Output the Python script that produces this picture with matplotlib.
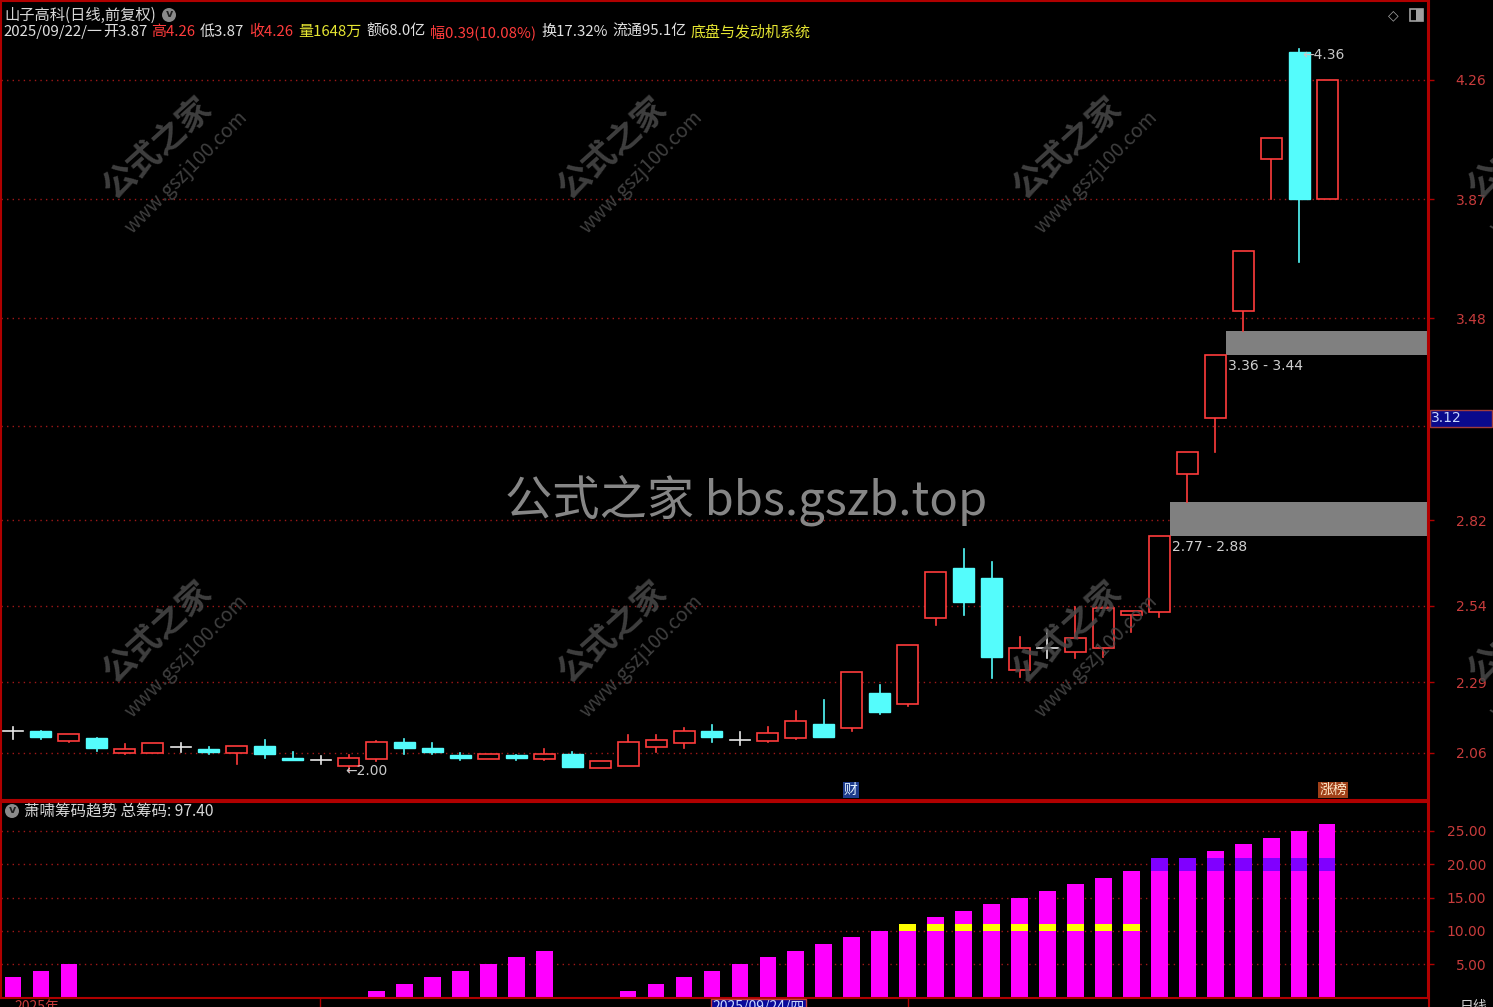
import matplotlib
matplotlib.use('Agg')
import matplotlib.pyplot as plt
from matplotlib.patches import Rectangle, Ellipse

plt.rcParams['font.family'] = ['Noto Sans CJK SC', 'DejaVu Sans']

# 日K数据 (前复权)
opens = [2.131, 2.131, 2.098, 2.108, 2.059, 2.059, 2.079, 2.072, 2.059, 2.082,
         2.043, 2.036, 2.017, 2.040, 2.095, 2.076, 2.053, 2.040, 2.053, 2.040,
         2.056, 2.010, 2.017, 2.079, 2.092, 2.131, 2.102, 2.098, 2.108, 2.154,
         2.141, 2.255, 2.219, 2.501, 2.664, 2.632, 2.331, 2.403, 2.389, 2.403,
         2.511, 2.520, 2.972, 3.155, 3.505, 4.002, 4.350, 3.870]
highs = [2.144, 2.131, 2.121, 2.108, 2.089, 2.092, 2.092, 2.079, 2.082, 2.102,
         2.062, 2.049, 2.053, 2.100, 2.105, 2.092, 2.059, 2.056, 2.053, 2.072,
         2.062, 2.033, 2.118, 2.118, 2.141, 2.151, 2.128, 2.144, 2.197, 2.233,
         2.324, 2.282, 2.412, 2.651, 2.726, 2.684, 2.439, 2.461, 2.537, 2.533,
         2.524, 2.770, 3.044, 3.360, 3.701, 4.070, 4.360, 4.260]
lows = [2.105, 2.105, 2.095, 2.066, 2.056, 2.059, 2.062, 2.056, 2.023, 2.043,
        2.036, 2.023, 2.000, 2.033, 2.056, 2.056, 2.036, 2.040, 2.036, 2.036,
        2.013, 2.010, 2.017, 2.062, 2.076, 2.095, 2.085, 2.095, 2.105, 2.112,
        2.131, 2.187, 2.213, 2.478, 2.511, 2.304, 2.308, 2.370, 2.370, 2.373,
        2.455, 2.504, 2.880, 3.044, 3.440, 3.870, 3.665, 3.870]
closes = [2.131, 2.112, 2.121, 2.076, 2.072, 2.092, 2.079, 2.062, 2.082, 2.056,
          2.036, 2.036, 2.043, 2.095, 2.076, 2.062, 2.043, 2.056, 2.043, 2.056,
          2.013, 2.033, 2.095, 2.102, 2.131, 2.112, 2.102, 2.125, 2.164, 2.112,
          2.324, 2.193, 2.412, 2.651, 2.553, 2.373, 2.403, 2.403, 2.435, 2.533,
          2.524, 2.770, 3.044, 3.360, 3.701, 4.070, 3.870, 4.260]

# 筹码趋势 (0 = 无柱)
chips = [3, 4, 5, 0, 0, 0, 0, 0, 0, 0, 0, 0, 0, 1, 2, 3, 4, 5, 6, 7, 0, 0,
         1, 2, 3, 4, 5, 6, 7, 8, 9, 10, 11, 12, 13, 14, 15, 16, 17, 18, 19,
         20, 21, 22, 23, 24, 25, 26]
yellow_idx = [32, 33, 34, 35, 36, 37, 38, 39, 40]
yellow_band = (10, 11)
purple_idx = [41, 42, 43, 44, 45, 46, 47]
purple_band = (19, 21)

# 缺口
gaps = [(41, 2.77, 2.88), (43, 3.36, 3.44)]

price_ticks = [4.26, 3.87, 3.48, 3.13, 2.82, 2.54, 2.29, 2.06]
price_labels = ['4.26', '3.87', '3.48', '', '2.82', '2.54', '2.29', '2.06']
chip_ticks = [5, 10, 15, 20, 25]
chip_labels = ['5.00', '10.00', '15.00', '20.00', '25.00']

RED = '#ff3c3c'
CYAN = '#54fcfc'
FRAME = '#b00000'
GRID = '#a01818'
TICKC = '#c83c3c'

W, H = 1493, 1007
fig = plt.figure(figsize=(W / 100, H / 100), dpi=100, facecolor='black')


def box(x0, y0, x1, y1):
    return [x0 / W, 1 - y1 / H, (x1 - x0) / W, (y1 - y0) / H]


def ftext(x, y, s, **kw):
    return fig.text(x / W, 1 - y / H, s, **kw)


def frect(x0, y0, x1, y1, **kw):
    fig.patches.append(Rectangle((x0 / W, 1 - y1 / H), (x1 - x0) / W,
                                 (y1 - y0) / H, transform=fig.transFigure, **kw))


ax = fig.add_axes(box(1, 1, 1428, 800))
ax2 = fig.add_axes(box(1, 802, 1428, 998))
xl = (-0.43, 50.61)

for a in (ax, ax2):
    a.set_facecolor('black')
    a.set_xlim(*xl)
    a.set_xticks([])
    for s in a.spines.values():
        s.set_color(FRAME)
        s.set_linewidth(1.5)
    a.yaxis.tick_right()
    a.tick_params(axis='y', colors=FRAME, labelcolor=TICKC, length=4,
                  width=1, labelsize=10, pad=38)

ax.set_ylim(1.9055, 4.518)
ax2.set_ylim(-0.11, 29.36)

# 网格线
ax.set_yticks(price_ticks)
ax.set_yticklabels(price_labels)
for p in price_ticks:
    ax.axhline(p, color=GRID, lw=1, ls=(0, (1, 3)), zorder=0)
ax2.set_yticks(chip_ticks)
ax2.set_yticklabels(chip_labels)
for v in chip_ticks:
    ax2.axhline(v, color=GRID, lw=1, ls=(0, (1, 3)), zorder=0)
for a in (ax, ax2):
    for lab in a.get_yticklabels():
        lab.set_ha('right')
        lab.set_family('DejaVu Sans')

# 缺口色块
for i, lo, hi in gaps:
    x0 = i + 0.38
    ax.add_patch(Rectangle((x0, lo), xl[1] - x0, hi - lo, facecolor='#808080',
                           edgecolor='none', zorder=1))
    ax.annotate(f'{lo:.2f} - {hi:.2f}', (x0, lo), xytext=(2, -4),
                textcoords='offset pixels', ha='left', va='top',
                color='#d0d0d0', fontsize=10, family='DejaVu Sans')

# K线
bw = 0.75
for i in range(len(opens)):
    o, h, l, c = opens[i], highs[i], lows[i], closes[i]
    if c > o:
        ax.plot([i, i], [c, h], color=RED, lw=1.2, zorder=3)
        ax.plot([i, i], [l, o], color=RED, lw=1.2, zorder=3)
        ax.add_patch(Rectangle((i - bw / 2, o), bw, c - o, facecolor='black',
                               edgecolor=RED, lw=1.2, zorder=3))
    elif c < o:
        ax.plot([i, i], [l, h], color=CYAN, lw=1.2, zorder=3)
        ax.add_patch(Rectangle((i - bw / 2, c), bw, o - c, facecolor=CYAN,
                               edgecolor=CYAN, lw=1, zorder=3))
    else:
        ax.plot([i, i], [l, h], color='#e8e8e8', lw=1.2, zorder=3)
        ax.plot([i - 0.36, i + 0.36], [o, o], color='#e8e8e8', lw=1.2, zorder=3)

imin = lows.index(min(lows))
ax.text(imin - 0.12, lows[imin], '←%.2f' % lows[imin], ha='left', va='center',
        color='#c8c8c8', fontsize=10, family='DejaVu Sans', zorder=4)
imax = highs.index(max(highs))
ax.text(imax + 0.1, highs[imax] - 0.02, '←%.2f' % highs[imax], ha='left',
        va='center', color='#c8c8c8', fontsize=10, family='DejaVu Sans', zorder=4)

# 筹码柱
cw = 0.6
for i, v in enumerate(chips):
    if v > 0:
        ax2.add_patch(Rectangle((i - cw / 2, 0), cw, v, facecolor='#ff00ff',
                                edgecolor='none', zorder=2))
for i in yellow_idx:
    ax2.add_patch(Rectangle((i - cw / 2, yellow_band[0]), cw,
                            yellow_band[1] - yellow_band[0], facecolor='#ffff00',
                            edgecolor='none', zorder=3))
for i in purple_idx:
    ax2.add_patch(Rectangle((i - cw / 2, purple_band[0]), cw,
                            purple_band[1] - purple_band[0], facecolor='#8000ff',
                            edgecolor='none', zorder=3))

# 水印
for wx in (158, 613, 1068, 1523):
    for wy in (148, 632):
        ftext(wx, wy, '公式之家', rotation=42, ha='center', va='center',
              color='#4a4a4a', fontsize=24, fontweight='bold', alpha=0.85)
        ftext(wx + 28, wy + 24, 'www.gszj100.com', rotation=45, ha='center',
              va='center', color='#4a4a4a', fontsize=14, alpha=0.85)
ftext(746, 500, '公式之家 bbs.gszb.top', ha='center', va='center',
      color='#969696', fontsize=34, alpha=0.9)

# 标题行
ftext(4, 15, '山子高科(日线,前复权)', ha='left', va='center', color='#d8d8d8',
      fontsize=11)
fig.patches.append(Ellipse((169 / W, 1 - 15 / H), 14 / W, 14 / H,
                           transform=fig.transFigure, facecolor='#8a8a8a'))
ftext(169, 14, 'v', ha='center', va='center', color='#202020', fontsize=8,
      family='DejaVu Sans', fontweight='bold')

header = [(3, '2025/09/22/一', '#e0e0e0'), (103, '开3.87', '#e0e0e0'),
          (151, '高4.26', RED), (200, '低3.87', '#e0e0e0'),
          (249, '收4.26', RED), (298, '量1648万', '#e6e632'),
          (366, '额68.0亿', '#e0e0e0'), (430, '幅0.39(10.08%)', RED),
          (541, '换17.32%', '#e0e0e0'), (612, '流通95.1亿', '#e0e0e0'),
          (691, '底盘与发动机系统', '#e6e632')]
for x, s, col in header:
    ftext(x, 32, s, ha='left', va='center', color=col, fontsize=10.8)

ftext(1393, 15, '◇', ha='center', va='center', color='#a0a0a0', fontsize=10,
      family='DejaVu Sans')
frect(1410, 9, 1423, 21, facecolor='none', edgecolor='#a0a0a0', lw=1.2)
frect(1416, 9, 1423, 21, facecolor='#a0a0a0')

# 当前价标签
frect(1430, 410, 1492, 427, facecolor='#0a0a8c', edgecolor='#a03c3c', lw=1)
ftext(1431, 418, '3.12', ha='left', va='center', color='#c8d8ff', fontsize=10,
      family='DejaVu Sans')

# 标记
ftext(851, 790, '财', ha='center', va='center', color='#e0f0ff', fontsize=10,
      bbox=dict(boxstyle='square,pad=0.1', facecolor='#1e3c8c', edgecolor='none'))
ftext(1333, 790, '涨榜', ha='center', va='center', color='#ffe8c8', fontsize=10,
      bbox=dict(boxstyle='square,pad=0.1', facecolor='#a04018', edgecolor='none'))

# 副图标题
fig.patches.append(Ellipse((12 / W, 1 - 811 / H), 14 / W, 14 / H,
                           transform=fig.transFigure, facecolor='#8a8a8a'))
ftext(12, 810, 'v', ha='center', va='center', color='#202020', fontsize=8,
      family='DejaVu Sans', fontweight='bold')
ftext(24, 811, '萧啸筹码趋势 总筹码: 97.40', ha='left', va='center',
      color='#d8d8d8', fontsize=11.2)

# 底部日期栏
for x in (320, 908):
    fig.add_artist(plt.Line2D([x / W, x / W], [0, 9 / H], color=FRAME, lw=1))
ftext(14, 1000, '2025年', ha='left', va='top', color=TICKC, fontsize=10)
ftext(712, 1000, '2025/09/24/四', ha='left', va='top', color='#c8d8ff',
      fontsize=10, bbox=dict(boxstyle='square,pad=0.1', facecolor='#0a0a9a',
                             edgecolor=TICKC))
ftext(1460, 1000, '日线', ha='left', va='top', color='#d0d0d0', fontsize=10)
fig.add_artist(plt.Line2D([1428.5 / W, 1428.5 / W], [0, 1], color=FRAME, lw=1.5))

fig.savefig('out.png', dpi=100, facecolor='black')
